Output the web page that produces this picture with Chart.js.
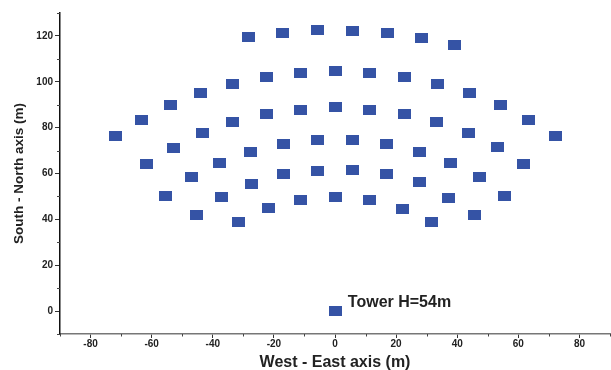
<!DOCTYPE html>
<html>
<head>
<meta charset="utf-8">
<script src="https://cdn.jsdelivr.net/npm/chart.js@4"></script>
<style>
  html, body { margin: 0; padding: 0; background: #fff; }
  #wrap { width: 611px; height: 370px; }
</style>
</head>
<body>
<div id="wrap"><canvas id="field"></canvas></div>
<script>
// heliostat positions (m)
const heliostatX = [
  -28.2, -17.1, -5.8, 5.6, 17.1, 28.2, 39.1,
  -72.0, -63.2, -54.0, -43.9, -33.4, -22.5, -11.2, 0, 11.4, 22.6, 33.5, 44.1, 54.1, 63.3, 72.1,
  -43.4, -33.4, -22.5, -11.2, 0, 11.4, 22.6, 33.3, 43.6,
  -53.0, -61.7, 53.1, 61.7,
  -37.9, -27.8, -16.9, -5.8, 5.6, 17.0, 27.8, 37.9,
  -47.1, -27.3, -16.9, -5.8, 5.6, 17.0, 27.5, 47.2,
  -55.4, -45.4, -37.0, -31.5, -21.9, -11.2, 0, 11.3, 22.1, 31.6, 37.1, 45.6, 55.6
];
const heliostatY = [
  119.6, 121.4, 122.4, 122.3, 121.3, 119.3, 116.2,
  76.2, 83.4, 89.8, 95.1, 99.2, 102.2, 103.9, 104.6, 104.0, 102.2, 99.1, 94.9, 89.7, 83.4, 76.2,
  77.5, 82.3, 85.9, 87.9, 88.8, 87.9, 85.8, 82.3, 77.5,
  71.3, 64.0, 71.4, 64.0,
  64.4, 69.5, 72.8, 74.5, 74.4, 72.7, 69.5, 64.4,
  58.3, 55.6, 59.8, 61.3, 61.5, 59.6, 56.2, 58.3,
  50.4, 42.1, 49.6, 38.7, 44.8, 48.6, 49.9, 48.6, 44.7, 38.7, 49.5, 42.1, 50.4
];
const towerX = [0];
const towerY = [0];
const towerLabel = 'Tower H=54m';

const xTitle = 'West - East axis (m)';
const yTitle = 'South - North axis (m)';

// blue rectangle marker, a bit wider than tall like the original
const marker = document.createElement('canvas');
marker.width = 13;
marker.height = 10;
const mctx = marker.getContext('2d');
mctx.fillStyle = '#3553a5';
mctx.fillRect(0, 0, 13, 10);

const pts = heliostatX.map((x, i) => ({ x: x, y: heliostatY[i] }));
const towerPts = towerX.map((x, i) => ({ x: x, y: towerY[i] }));

const FONT = "'Liberation Sans', Arial, sans-serif";

// short minor ticks between the labelled ones + tower text
const extras = {
  id: 'extras',
  afterDraw(chart) {
    const c = chart.ctx;
    const xs = chart.scales.x, ys = chart.scales.y;
    c.save();
    c.strokeStyle = '#444';
    c.lineWidth = 1;
    for (let v = -90; v <= 90; v += 20) {
      const px = Math.round(xs.getPixelForValue(v)) + 0.5;
      c.beginPath();
      c.moveTo(px, xs.top);
      c.lineTo(px, xs.top + 2.5);
      c.stroke();
    }
    for (let v = -10; v <= 130; v += 20) {
      const py = Math.round(ys.getPixelForValue(v)) + 0.5;
      c.beginPath();
      c.moveTo(ys.right, py);
      c.lineTo(ys.right - 3, py);
      c.stroke();
    }
    c.fillStyle = '#222';
    c.font = 'bold 16px ' + FONT;
    c.textBaseline = 'middle';
    c.fillText(towerLabel, xs.getPixelForValue(4.2), ys.getPixelForValue(3.8));
    c.restore();
  }
};

new Chart(document.getElementById('field'), {
  type: 'scatter',
  data: {
    datasets: [
      { label: 'Heliostats', data: pts, pointStyle: marker, pointRadius: 6 },
      { label: 'Tower', data: towerPts, pointStyle: marker, pointRadius: 6 }
    ]
  },
  options: {
    responsive: true,
    maintainAspectRatio: false,
    animation: false,
    layout: { autoPadding: false, padding: { top: 13, right: 1, left: 0, bottom: 0 } },
    plugins: {
      legend: { display: false },
      tooltip: { enabled: false }
    },
    scales: {
      x: {
        type: 'linear',
        min: -90,
        max: 90,
        afterFit: (s) => { s.height = 36; s.paddingRight = 0; s.paddingLeft = 0; },
        border: { display: true, color: '#777', width: 1.5 },
        grid: { drawOnChartArea: false, drawTicks: true, tickLength: 4, color: '#333' },
        ticks: {
          stepSize: 10,
          padding: 0,
          maxRotation: 0,
          autoSkip: false,
          color: '#222',
          font: { family: FONT, size: 10, weight: 'bold' },
          callback: (v) => (v % 20 === 0 ? String(v) : null)
        },
        title: {
          display: true,
          text: xTitle,
          color: '#222',
          padding: { top: 0, bottom: -2 },
          font: { family: FONT, size: 16, weight: 'bold' }
        }
      },
      y: {
        type: 'linear',
        min: -10,
        max: 130,
        afterFit: (s) => { s.width = 60; s.paddingTop = 0; s.paddingBottom = 0; },
        border: { display: true, color: '#111', width: 1.5 },
        grid: { drawOnChartArea: false, drawTicks: true, tickLength: 5, color: '#333' },
        ticks: {
          stepSize: 10,
          padding: 2,
          autoSkip: false,
          color: '#222',
          font: { family: FONT, size: 10, weight: 'bold' },
          callback: (v) => (v % 20 === 0 ? String(v) : null)
        },
        title: {
          display: true,
          text: yTitle,
          color: '#222',
          padding: { top: 11, bottom: 0 },
          font: { family: FONT, size: 13.5, weight: 'bold' }
        }
      }
    }
  },
  plugins: [extras]
});
</script>
</body>
</html>
